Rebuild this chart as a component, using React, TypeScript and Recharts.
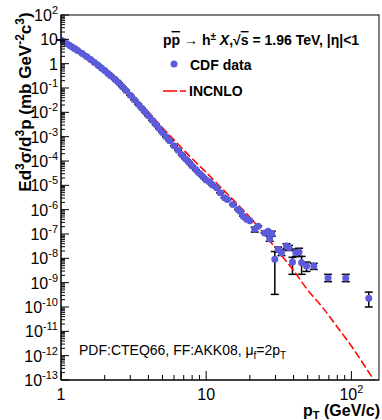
import { ComposedChart, Scatter, Line, XAxis, YAxis, ErrorBar } from "recharts";

// CDF charged hadron spectrum
const ptData = [
    1.0, 1.05, 1.1, 1.15, 1.2, 1.25, 1.3, 1.4, 1.5, 1.6, 1.7, 1.8, 1.9, 2.0, 2.1, 2.2, 2.35, 2.5, 2.65, 2.8,
    3.0, 3.2, 3.4, 3.6, 3.8, 4.0, 4.25, 4.5, 4.75, 5.0, 5.3, 5.6, 6.0, 6.4, 6.8, 7.2, 7.6, 8.0, 8.5, 9.0,
    9.5, 10.0, 10.5, 11.0, 11.8, 12.5, 13.4, 14.0, 15.3, 16.6, 17.2, 18.0, 19.0, 20.0, 21.6, 22.8, 25.3,
    26.7, 27.4, 28.3, 29.7, 31.3, 33.0, 35.7, 37.2, 39.3, 41.4, 43.6, 45.4, 49.1, 55.1, 69.1, 91.5, 131.8,
];
const cdfValues = [
    9.44, 7.89, 6.64, 5.61, 4.77, 4.09, 3.5, 2.61, 1.95, 1.48, 1.12, 0.861, 0.664, 0.519, 0.406, 0.322, 0.227,
    0.163, 0.113, 0.0791, 0.0502, 0.0327, 0.0217, 0.0147, 0.0102, 0.00716, 0.00469, 0.00315, 0.00215, 0.0015,
    0.001, 6.8e-4, 4.25e-4, 2.74e-4, 1.82e-4, 1.24e-4, 8.8e-5, 6.3e-5, 4.35e-5, 3.06e-5, 2.24e-5, 1.66e-5,
    1.41e-5, 1.05e-5, 7.9e-6, 5.0e-6, 3.1e-6, 2.6e-6, 1.62e-6, 1.02e-6, 8.5e-7, 5.4e-7, 4.0e-7, 3.5e-7,
    1.55e-7, 2.1e-7, 1.1e-7, 1.3e-7, 6.4e-8, 1.05e-7, 9.1e-9, 2.3e-8, 1.7e-8, 3.2e-8, 2.7e-8, 7.0e-9,
    1.7e-8, 1.8e-8, 6.6e-9, 4.8e-9, 4.8e-9, 1.56e-9, 1.56e-9, 2.3e-10,
];
// error bar ends for the high-pT points (pT -> [low, high])
const errPt = [21.6, 27.4, 28.3, 29.7, 31.3, 33.0, 35.7, 37.2, 39.3, 41.4, 43.6, 45.4, 49.1, 55.1, 69.1, 91.5, 131.8];
const errLow = [1.2e-7, 5.0e-8, 8.2e-8, 3.3e-10, 1.8e-8, 1.3e-8, 2.5e-8, 2.1e-8, 2.2e-9, 1.2e-8, 1.2e-8, 2.2e-9, 2.9e-9, 3.5e-9, 1.1e-9, 1.1e-9, 1.0e-10];
const errHigh = [1.9e-7, 8.0e-8, 1.3e-7, 1.9e-8, 2.9e-8, 2.2e-8, 4.0e-8, 3.4e-8, 1.1e-8, 2.4e-8, 2.6e-8, 1.2e-8, 7.0e-9, 6.2e-9, 2.2e-9, 2.2e-9, 4.1e-10];

// INCNLO curve
const nloPt = [3.07, 4, 5, 6.3, 7.9, 10, 12.6, 15.8, 20, 25, 31.6, 40, 50, 63, 79, 100, 126, 143];
const nloValues = [
    5.25e-2, 1.0e-2, 2.34e-3, 5.5e-4, 1.35e-4, 3.4e-5, 8.3e-6, 2.14e-6, 4.9e-7, 1.0e-7, 1.82e-8, 3.16e-9,
    5.0e-10, 1.0e-10, 1.66e-11, 2.5e-12, 3.16e-13, 1.0e-13,
];

const yDecades = [-13, -12, -11, -10, -9, -8, -7, -6, -5, -4, -3, -2, -1, 0, 1, 2];
const xDecades = [0, 1, 2];

const FONT = '"Liberation Sans", Arial, sans-serif';
const BLUE = "#5b5bdc";

const cdf = ptData.map((pt, i) => {
    const v = cdfValues[i];
    const j = errPt.indexOf(pt);
    const err = j >= 0 ? [v - errLow[j], errHigh[j] - v] : [0, 0];
    return { pt, v, err };
});
const nlo = nloPt.map((pt, i) => ({ pt, nlo: nloValues[i] }));

const makeTicks = (decades: number[], max: number) => {
    const out: number[] = [];
    decades.forEach((d) => {
        for (let m = 1; m < 10; m++) {
            const t = Number((m * Math.pow(10, d)).toPrecision(3));
            if (t <= max) out.push(t);
        }
    });
    return out;
};
const yTicks = makeTicks(yDecades, 100);
const xTicks = makeTicks(xDecades, 155);

const isMajor = (v: number) => Math.abs(Math.log10(v) - Math.round(Math.log10(v))) < 1e-6;

const powLabel = (v: number, anchor: "end" | "middle", x: number, y: number) => {
    const e = Math.round(Math.log10(v));
    if (e === 0 || e === 1) {
        return (
            <text x={x} y={y} textAnchor={anchor} fontSize={16} fontFamily={FONT} fill="#000">
                {e === 0 ? "1" : "10"}
            </text>
        );
    }
    return (
        <text x={x} y={y} textAnchor={anchor} fontSize={16} fontFamily={FONT} fill="#000">
            10
            <tspan dy={-7} fontSize={11}>{e}</tspan>
        </text>
    );
};

const YTick = (props: any) => {
    const { x, y, payload } = props;
    const major = isMajor(payload.value);
    return (
        <g>
            <line x1={x} x2={x + (major ? 8 : 4)} y1={y} y2={y} stroke="#000" strokeWidth={1} />
            {major && powLabel(payload.value, "end", x - 3, y + 6)}
        </g>
    );
};

const XTick = (props: any) => {
    const { x, y, payload } = props;
    const major = isMajor(payload.value);
    return (
        <g>
            <line x1={x} x2={x} y1={y} y2={y - (major ? 9 : 5)} stroke="#000" strokeWidth={1} />
            {major && powLabel(payload.value, "middle", x, y + 20)}
        </g>
    );
};

const Dot = (props: any) => <circle cx={props.cx} cy={props.cy} r={3.5} fill={BLUE} />;

export default function App() {
    return (
        <div style={{ position: "absolute", left: 0, top: 0, width: 382, height: 420, background: "#fff" }}>
            <ComposedChart width={382} height={420} margin={{ top: 15, right: 3, bottom: 0, left: 0 }}>
                <XAxis
                    dataKey="pt"
                    type="number"
                    scale="log"
                    domain={[1, 155]}
                    allowDataOverflow
                    ticks={xTicks}
                    interval={0}
                    tick={<XTick />}
                    tickLine={false}
                    tickSize={0}
                    tickMargin={0}
                    height={40}
                    axisLine={{ stroke: "#000" }}
                />
                <YAxis
                    type="number"
                    scale="log"
                    domain={[1e-13, 100]}
                    allowDataOverflow
                    ticks={yTicks}
                    interval={0}
                    tick={<YTick />}
                    tickLine={false}
                    tickSize={0}
                    tickMargin={0}
                    width={61}
                    axisLine={{ stroke: "#000" }}
                />
                <Scatter data={cdf} dataKey="v" shape={<Dot />} isAnimationActive={false}>
                    <ErrorBar dataKey="err" direction="y" width={4} stroke="#000" strokeWidth={1.5} />
                </Scatter>
                <Line
                    data={nlo}
                    dataKey="nlo"
                    type="monotone"
                    stroke="#ff0000"
                    strokeWidth={1.5}
                    strokeDasharray="8 3"
                    dot={false}
                    isAnimationActive={false}
                />
            </ComposedChart>

            <svg
                width={382}
                height={420}
                style={{ position: "absolute", left: 0, top: 0, pointerEvents: "none" }}
                fontFamily={FONT}
            >
                <rect x={61} y={15} width={318} height={365} fill="none" stroke="#000" strokeWidth={1} />

                <text x={163} y={45} fontSize={14} fontWeight="bold" fill="#000">
                    p<tspan style={{ textDecoration: "overline" }}>p</tspan> → h
                    <tspan dy={-5} fontSize={10}>±</tspan>
                    <tspan dy={5}> </tspan>
                    <tspan fontStyle="italic">X</tspan>,√<tspan style={{ textDecoration: "overline" }}>s</tspan> = 1.96 TeV, |η|&lt;1
                </text>

                <circle cx={174} cy={64} r={3.5} fill={BLUE} />
                <text x={190} y={70} fontSize={14} fontWeight="bold" fill="#000">CDF data</text>
                <line x1={163} x2={186} y1={91} y2={91} stroke="#ff0000" strokeWidth={1.5} strokeDasharray="14 3" />
                <text x={189} y={96} fontSize={14} fontWeight="bold" fill="#000">INCNLO</text>

                <text x={79} y={355} fontSize={14} fill="#000">
                    PDF:CTEQ66, FF:AKK08, μ<tspan dy={4} fontSize={10}>f</tspan>
                    <tspan dy={-4}>=2p</tspan>
                    <tspan dy={4} fontSize={10}>T</tspan>
                </text>

                <text x={380} y={416} textAnchor="end" fontSize={16} fontWeight="bold" fill="#000">
                    p<tspan dy={3} fontSize={11}>T</tspan>
                    <tspan dy={-3}> (GeV/c)</tspan>
                </text>

                <text
                    transform="translate(31,102) rotate(-90)"
                    textAnchor="middle"
                    fontSize={17}
                    fontWeight="bold"
                    fill="#000"
                >
                    Ed<tspan dy={-7} fontSize={12}>3</tspan>
                    <tspan dy={7}>σ/d</tspan>
                    <tspan dy={-7} fontSize={12}>3</tspan>
                    <tspan dy={7}>p (mb GeV</tspan>
                    <tspan dy={-7} fontSize={12}>-2</tspan>
                    <tspan dy={7}>c</tspan>
                    <tspan dy={-7} fontSize={12}>3</tspan>
                    <tspan dy={7}>)</tspan>
                </text>
            </svg>
        </div>
    );
}
